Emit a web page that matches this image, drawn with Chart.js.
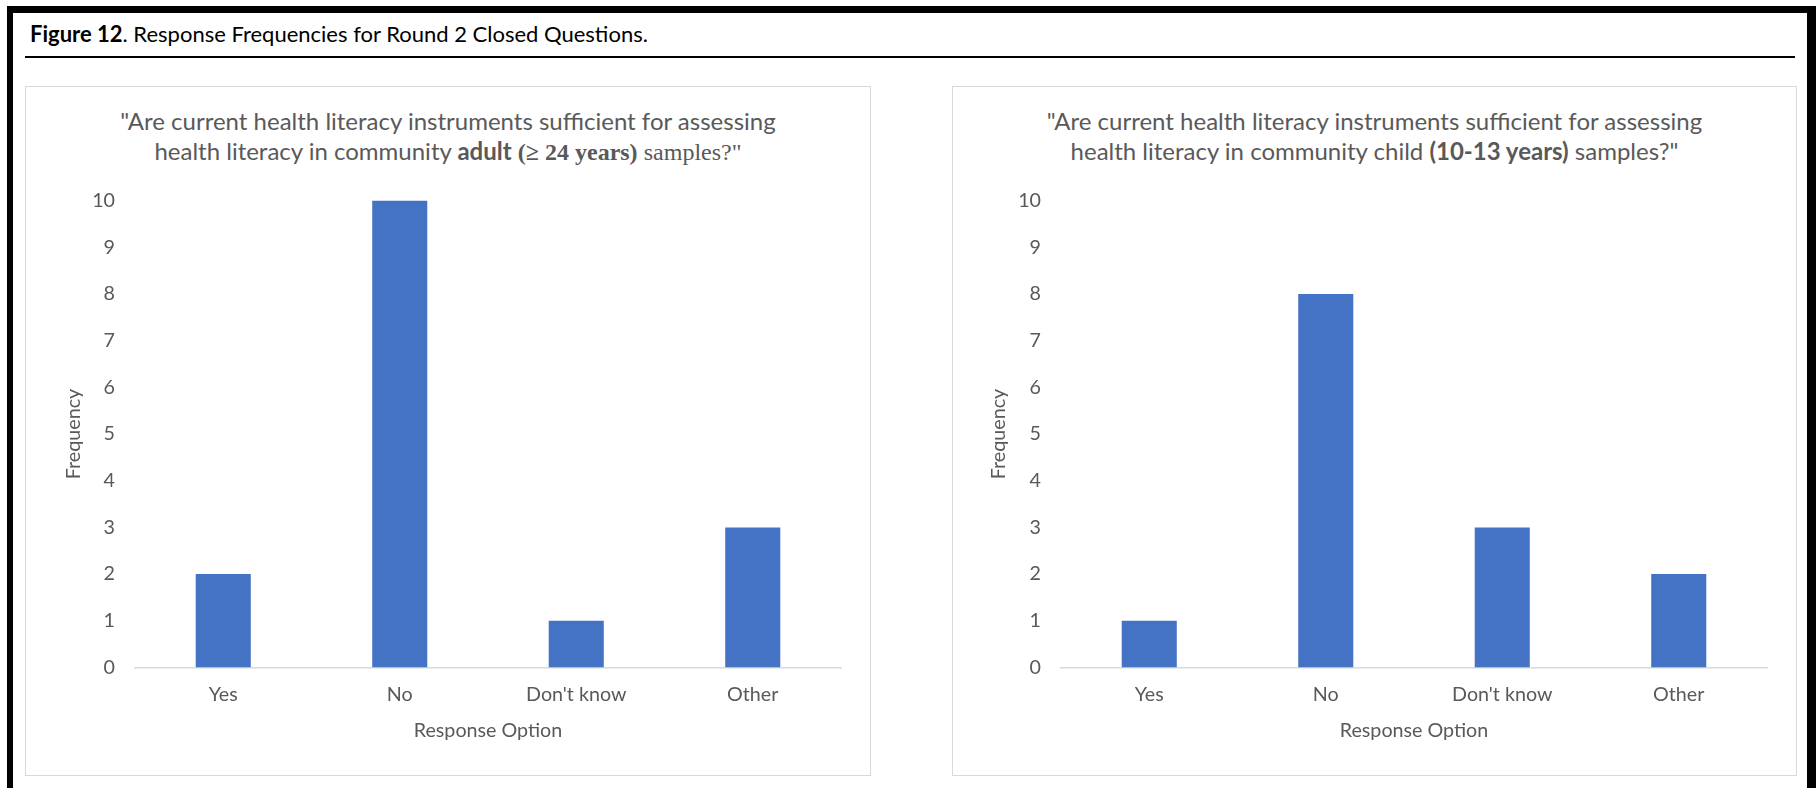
<!DOCTYPE html>
<html>
<head>
<meta charset="utf-8">
<title>Figure 12</title>
<script src="https://cdn.jsdelivr.net/npm/chart.js@4.4.1/dist/chart.umd.min.js"></script>
<style>
  body {
    margin: 0;
    width: 1816px;
    height: 788px;
    overflow: hidden;
    position: relative;
    background: #fff;
    font-family: Lato, "Open Sans", sans-serif;
  }
  .frame {
    position: absolute;
    left: 7px;
    top: 6px;
    width: 1809px;
    height: 900px;
    box-sizing: border-box;
    border-left: 6px solid #000;
    border-top: 7px solid #000;
    border-right: 9px solid #000;
  }
  .caption {
    position: absolute;
    left: 30px;
    top: 21px;
    font-size: 22px;
    line-height: 26px;
    color: #000;
  }
  .rule {
    position: absolute;
    left: 25px;
    top: 56px;
    width: 1770px;
    height: 1.5px;
    background: #000;
  }
  .panel {
    position: absolute;
    top: 86px;
    height: 690px;
    box-sizing: border-box;
    border: 1.5px solid #d9d9d9;
  }
  .chart-title {
    position: absolute;
    top: 106px;
    text-align: center;
    font-size: 24px;
    line-height: 30px;
    color: #595959;
  }
  .serif { font-family: "Liberation Serif", serif; }
  canvas { position: absolute; top: 86px; }
</style>
</head>
<body>
<div class="frame"></div>
<div class="caption"><b>Figure 12</b>. Response Frequencies for Round 2 Closed Questions.</div>
<div class="rule"></div>

<div class="panel" style="left:25px; width:846px;"></div>
<div class="panel" style="left:952px; width:845px;"></div>

<div class="chart-title" style="left:25px; width:846px;">
  "Are current health literacy instruments sufficient for assessing<br>
  health literacy in community <b>adult</b> <b class="serif">(&ge; 24 years)</b> <span class="serif">samples?"</span>
</div>
<div class="chart-title" style="left:952px; width:845px;">
  "Are current health literacy instruments sufficient for assessing<br>
  health literacy in community child <b>(10-13 years)</b> samples?"
</div>

<canvas id="adultChart" width="845" height="689" style="left:25px;"></canvas>
<canvas id="childChart" width="844" height="689" style="left:952px;"></canvas>

<script>
const responseOptions = ["Yes", "No", "Don't know", "Other"];
const adultCounts = [2, 10, 1, 3];
const childCounts = [1, 8, 3, 2];
const frequencyTicks = [0, 1, 2, 3, 4, 5, 6, 7, 8, 9, 10];

const textColor = "#595959";
const axisFont = { family: "Lato", size: 19.7 };

function drawChart(canvasId, counts, box) {
  const ctx = document.getElementById(canvasId).getContext("2d");

  return new Chart(ctx, {
    type: "bar",
    data: {
      labels: responseOptions,
      datasets: [{
        label: "Frequency",
        data: counts,
        backgroundColor: "#4472c4",
        barPercentage: 0.312,
        categoryPercentage: 1
      }]
    },
    options: {
      responsive: false,
      animation: false,
      devicePixelRatio: 1,
      layout: {
        padding: { left: 0, right: box.padRight, top: 114.5, bottom: 0 }
      },
      plugins: {
        legend: { display: false },
        tooltip: { enabled: false }
      },
      scales: {
        x: {
          grid: { display: false, drawTicks: false },
          border: { color: "#d9d9d9", width: 1.5 },
          ticks: { color: textColor, font: axisFont, padding: 15.5 },
          title: {
            display: true,
            text: "Response Option",
            color: textColor,
            font: axisFont,
            padding: { top: 0, bottom: 33 }
          },
          afterFit: s => { s.height = 107.5; }
        },
        y: {
          min: frequencyTicks[0],
          max: frequencyTicks[frequencyTicks.length - 1],
          grid: { display: false, drawTicks: false },
          border: { display: false },
          afterBuildTicks: s => { s.ticks = frequencyTicks.map(v => ({ value: v })); },
          ticks: { color: textColor, font: axisFont, padding: 20 },
          title: {
            display: true,
            text: "Frequency",
            color: textColor,
            font: axisFont,
            padding: { top: box.titlePad, bottom: 0 }
          },
          afterFit: s => { s.width = box.yWidth; }
        }
      }
    }
  });
}

drawChart("adultChart", adultCounts, { yWidth: 110, padRight: 29, titlePad: 37 });
drawChart("childChart", childCounts, { yWidth: 109, padRight: 29, titlePad: 35 });
</script>
</body>
</html>
